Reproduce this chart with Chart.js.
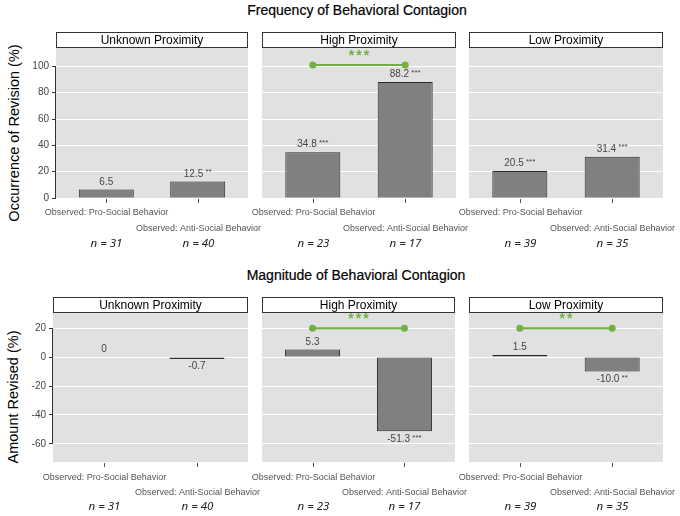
<!DOCTYPE html>
<html>
<head>
<meta charset="utf-8">
<script src="https://cdn.jsdelivr.net/npm/chart.js@4"></script>
<style>
  body { margin: 0; background: #fff; width: 680px; height: 516px; position: relative; overflow: hidden;
         font-family: "Liberation Sans", Arial, sans-serif; }
  canvas { position: absolute; left: 0; top: 0; }
  .title { position: absolute; font-size: 14px; color: #000; white-space: nowrap; transform: translate(-50%, -50%);
           -webkit-text-stroke: 0.2px #000; }
  .ytitle { position: absolute; font-size: 14.5px; color: #000; white-space: nowrap;
            transform: translate(-50%, -50%) rotate(-90deg); }
</style>
</head>
<body>
<div class="title" style="left:357px; top:10px">Frequency of Behavioral Contagion</div>
<div class="title" style="left:356px; top:275px">Magnitude of Behavioral Contagion</div>
<div class="ytitle" style="left:14px; top:133px">Occurrence of Revision (%)</div>
<div class="ytitle" style="left:13px; top:397px">Amount Revised (%)</div>

<canvas id="c00" width="680" height="516"></canvas>
<canvas id="c01" width="680" height="516"></canvas>
<canvas id="c02" width="680" height="516"></canvas>
<canvas id="c10" width="680" height="516"></canvas>
<canvas id="c11" width="680" height="516"></canvas>
<canvas id="c12" width="680" height="516"></canvas>

<script>
// data
const PANELS = ['Unknown Proximity', 'High Proximity', 'Low Proximity'];
const CATEGORIES = ['Observed: Pro-Social Behavior', 'Observed: Anti-Social Behavior'];
const SAMPLE_N = [[31, 40], [23, 17], [39, 35]];

const FREQ_VALUES = [[6.5, 12.5], [34.8, 88.2], [20.5, 31.4]];
const FREQ_STARS = [['', '**'], ['***', '***'], ['***', '***']];
const FREQ_DIFF_STARS = ['', '***', ''];
const FREQ_DIFF_LEVEL = 101;
const FREQ_TICKS = [0, 20, 40, 60, 80, 100];

const MAG_VALUES = [[0, -0.7], [5.3, -51.3], [1.5, -10.0]];
const MAG_STARS = [['', ''], ['', '***'], ['', '**']];
const MAG_DIFF_STARS = ['', '***', '**'];
const MAG_DIFF_LEVEL = 20;
const MAG_TICKS = [-60, -40, -20, 0, 20];

const GREEN = '#72b043';
const FONT = '"Liberation Sans", Arial, sans-serif';
const BAR_FILL = '#808080';
const BAR_EDGE = '#2a2a2a';

// layout of the two rows of panels
const ROWS = [
  { values: FREQ_VALUES, stars: FREQ_STARS, diff: FREQ_DIFF_STARS, level: FREQ_DIFF_LEVEL, ticks: FREQ_TICKS,
    min: 0, max: 114, top: 48, bottom: 198, lefts: [56, 262, 469], rights: [248, 456, 663],
    labelOffsets: [14.5, 30.5, 45.5] },
  { values: MAG_VALUES, stars: MAG_STARS, diff: MAG_DIFF_STARS, level: MAG_DIFF_LEVEL, ticks: MAG_TICKS,
    min: -72.5, max: 30.5, top: 313, bottom: 462, lefts: [53, 262, 469], rights: [248, 455, 663],
    labelOffsets: [16, 30.5, 45] },
];

const panelDecor = {
  id: 'panelDecor',
  beforeDraw(chart, args, o) {
    const { ctx, chartArea: a } = chart;
    ctx.save();
    ctx.fillStyle = '#e1e1e1';
    ctx.fillRect(a.left, a.top, a.right - a.left, a.bottom - a.top);
    // strip
    ctx.fillStyle = '#fff';
    ctx.fillRect(a.left, a.top - 16, a.right - a.left, 16);
    ctx.strokeStyle = '#333';
    ctx.lineWidth = 1;
    ctx.strokeRect(a.left + 0.5, a.top - 15.5, a.right - a.left - 1, 15);
    ctx.fillStyle = '#000';
    ctx.font = '12px ' + FONT;
    ctx.textAlign = 'center';
    ctx.textBaseline = 'middle';
    ctx.fillText(o.strip, (a.left + a.right) / 2, a.top - 7.5);
    ctx.restore();
  },
  afterDraw(chart, args, o) {
    const { ctx, chartArea: a } = chart;
    const xs = chart.scales.x, ys = chart.scales.y;
    ctx.save();

    // y axis line over the tick range
    if (o.axis) {
      const x = Math.round(a.left) - 0.5;
      ctx.strokeStyle = '#333';
      ctx.lineWidth = 1;
      ctx.beginPath();
      ctx.moveTo(x, ys.getPixelForValue(o.axis[1]));
      ctx.lineTo(x, ys.getPixelForValue(o.axis[0]));
      ctx.stroke();
    }

    // value labels
    ctx.textBaseline = 'middle';
    const bars = chart.getDatasetMeta(0).data;
    bars.forEach((bar, i) => {
      const v = o.values[i];
      const num = v === 0 ? '0' : v.toFixed(1);
      const st = o.stars[i];
      ctx.font = '10px ' + FONT;
      const wn = ctx.measureText(num).width;
      ctx.font = '8px ' + FONT;
      const ws = st ? ctx.measureText(' ' + st).width : 0;
      const x0 = bar.x - (wn + ws) / 2;
      const y = v >= 0 ? ys.getPixelForValue(v) - 7.5 : ys.getPixelForValue(v) + 8;
      ctx.fillStyle = '#444';
      ctx.textAlign = 'left';
      ctx.font = '10px ' + FONT;
      ctx.fillText(num, x0, y);
      if (st) {
        ctx.font = '8px ' + FONT;
        ctx.fillText(' ' + st, x0 + wn, y - 2);
      }
    });

    // significance stars over bracket
    if (o.diff) {
      const pts = chart.getDatasetMeta(1).data;
      ctx.fillStyle = GREEN;
      ctx.font = 'bold 14px ' + FONT;
      ctx.textAlign = 'center';
      if ('letterSpacing' in ctx) ctx.letterSpacing = '2px';
      ctx.fillText(o.diff, (pts[0].x + pts[1].x) / 2 + 1, pts[0].y - 9);
      if ('letterSpacing' in ctx) ctx.letterSpacing = '0px';
    }

    // tick marks, category labels and sample sizes
    ctx.textAlign = 'center';
    CATEGORIES.forEach((c, i) => {
      const x = Math.round(xs.getPixelForValue(i)) + 0.5;
      ctx.strokeStyle = '#555';
      ctx.lineWidth = 1;
      ctx.beginPath();
      ctx.moveTo(x, a.bottom + 1);
      ctx.lineTo(x, a.bottom + 5);
      ctx.stroke();
      ctx.fillStyle = '#555';
      ctx.font = '9px ' + FONT;
      ctx.fillText(c, x, a.bottom + o.offsets[i]);
      ctx.fillStyle = '#222';
      ctx.font = 'italic 11.5px "Noto Sans", "Open Sans", sans-serif';
      ctx.fillText('n = ' + o.n[i], x, a.bottom + o.offsets[2]);
    });
    ctx.restore();
  }
};

function makePanel(r, c) {
  const row = ROWS[r];
  const yW = c === 0 ? 25 : 0;
  const xH = 6;
  const vals = row.values[c];
  const datasets = [{
    type: 'bar',
    data: vals.map((v, i) => ({ x: i, y: v })),
    // zero bar is invisible, very short bars read as a dark line
    backgroundColor: vals.map(v => (v === 0 ? 'rgba(0,0,0,0)' : Math.abs(v) < 2 ? BAR_EDGE : BAR_FILL)),
    borderColor: BAR_EDGE,
    borderWidth: vals.map(v => (v === 0 ? 0 : 1)),
    borderSkipped: false,
    inflateAmount: 0,
    minBarLength: 2,
    barThickness: 55,
  }];
  if (row.diff[c]) {
    datasets.push({
      type: 'line',
      data: [{ x: 0, y: row.level }, { x: 1, y: row.level }],
      borderColor: GREEN,
      borderWidth: 2,
      pointRadius: 3.5,
      pointBackgroundColor: GREEN,
      pointBorderWidth: 0,
      fill: false,
    });
  }
  new Chart(document.getElementById('c' + r + c), {
    type: 'bar',
    data: { datasets },
    options: {
      responsive: false,
      animation: false,
      layout: {
        padding: {
          left: row.lefts[c] - yW,
          right: 680 - row.rights[c],
          top: row.top,
          bottom: 516 - row.bottom - xH,
        }
      },
      plugins: {
        legend: { display: false },
        tooltip: { enabled: false },
        panelDecor: {
          strip: PANELS[c],
          values: vals,
          stars: row.stars[c],
          diff: row.diff[c],
          n: SAMPLE_N[c],
          offsets: row.labelOffsets,
          axis: c === 0 ? [row.ticks[0], row.ticks[row.ticks.length - 1]] : null,
        }
      },
      scales: {
        x: {
          type: 'linear',
          min: -0.55,
          max: 1.55,
          offset: false,
          afterBuildTicks: s => { s.ticks = CATEGORIES.map((_, i) => ({ value: i })); },
          ticks: { display: false },
          grid: { display: false },
          border: { display: false },
          afterFit: s => { s.height = xH; },
        },
        y: {
          min: row.min,
          max: row.max,
          afterBuildTicks: s => { s.ticks = row.ticks.map(v => ({ value: v })); },
          ticks: { display: c === 0, color: '#444', font: { size: 10, family: FONT }, padding: 3 },
          grid: { color: '#fff', lineWidth: 1, drawTicks: c === 0, tickLength: 4, tickColor: '#333' },
          border: { display: false },
          afterFit: s => { s.width = yW; },
        }
      }
    },
    plugins: [panelDecor]
  });
}

for (let r = 0; r < 2; r++) {
  for (let c = 0; c < 3; c++) makePanel(r, c);
}
</script>
</body>
</html>
